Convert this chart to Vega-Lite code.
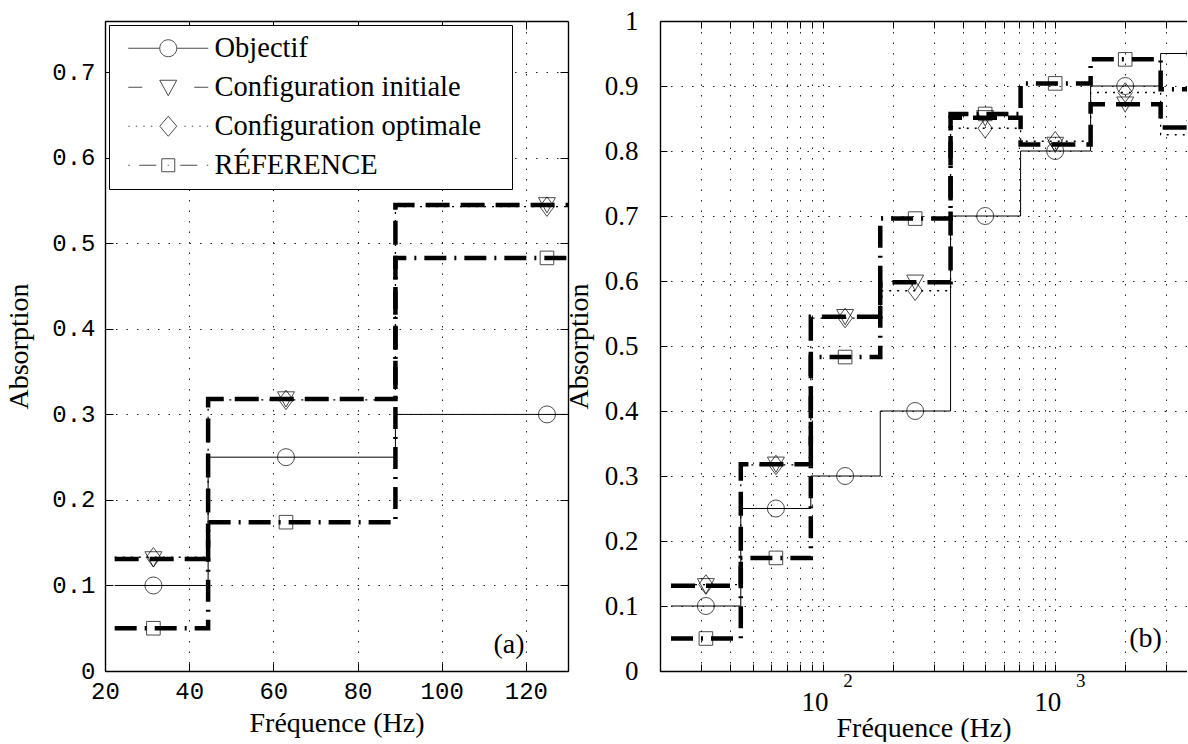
{
  "$schema": "https://vega.github.io/schema/vega-lite/v6.json",
  "background": "white",
  "padding": {"left": 5, "top": 7, "right": 0, "bottom": 0},
  "bounds": "flush",
  "spacing": 92,
  "config": {
    "view": {"stroke": null},
    "axis": {
      "domainColor": "black", "domainWidth": 1.4, "tickColor": "black", "tickWidth": 1,
      "gridColor": "#222", "gridDash": [1.5, 9], "gridOpacity": 1, "gridWidth": 1,
      "labelColor": "black", "titleColor": "black", "titleFont": "Liberation Serif",
      "titleFontSize": 28, "titleFontWeight": "normal", "labelFont": "Liberation Serif",
      "labelFontSize": 26, "labelFlush": false, "labelOverlap": false
    }
  },
  "datasets": {
    "bands": [
      {"s": "Objectif", "f": 31.5, "lo": 22.3, "hi": 44.5, "v": 0.1},
      {"s": "Objectif", "f": 63, "lo": 44.5, "hi": 89, "v": 0.25},
      {"s": "Objectif", "f": 125, "lo": 89, "hi": 177, "v": 0.3},
      {"s": "Objectif", "f": 250, "lo": 177, "hi": 355, "v": 0.4},
      {"s": "Objectif", "f": 500, "lo": 355, "hi": 710, "v": 0.7},
      {"s": "Objectif", "f": 1000, "lo": 710, "hi": 1420, "v": 0.8},
      {"s": "Objectif", "f": 2000, "lo": 1420, "hi": 2840, "v": 0.9},
      {"s": "Objectif", "f": 4000, "lo": 2840, "hi": 5680, "v": 0.95},
      {"s": "Configuration initiale", "f": 31.5, "lo": 22.3, "hi": 44.5, "v": 0.131},
      {"s": "Configuration initiale", "f": 63, "lo": 44.5, "hi": 89, "v": 0.318},
      {"s": "Configuration initiale", "f": 125, "lo": 89, "hi": 177, "v": 0.545},
      {"s": "Configuration initiale", "f": 250, "lo": 177, "hi": 355, "v": 0.598},
      {"s": "Configuration initiale", "f": 500, "lo": 355, "hi": 710, "v": 0.851},
      {"s": "Configuration initiale", "f": 1000, "lo": 710, "hi": 1420, "v": 0.81},
      {"s": "Configuration initiale", "f": 2000, "lo": 1420, "hi": 2840, "v": 0.872},
      {"s": "Configuration initiale", "f": 4000, "lo": 2840, "hi": 5680, "v": 0.836},
      {"s": "Configuration optimale", "f": 31.5, "lo": 22.3, "hi": 44.5, "v": 0.133},
      {"s": "Configuration optimale", "f": 63, "lo": 44.5, "hi": 89, "v": 0.317},
      {"s": "Configuration optimale", "f": 125, "lo": 89, "hi": 177, "v": 0.543},
      {"s": "Configuration optimale", "f": 250, "lo": 177, "hi": 355, "v": 0.585},
      {"s": "Configuration optimale", "f": 500, "lo": 355, "hi": 710, "v": 0.835},
      {"s": "Configuration optimale", "f": 1000, "lo": 710, "hi": 1420, "v": 0.815},
      {"s": "Configuration optimale", "f": 2000, "lo": 1420, "hi": 2840, "v": 0.89},
      {"s": "Configuration optimale", "f": 4000, "lo": 2840, "hi": 5680, "v": 0.825},
      {"s": "RÉFERENCE", "f": 31.5, "lo": 22.3, "hi": 44.5, "v": 0.05},
      {"s": "RÉFERENCE", "f": 63, "lo": 44.5, "hi": 89, "v": 0.174},
      {"s": "RÉFERENCE", "f": 125, "lo": 89, "hi": 177, "v": 0.483},
      {"s": "RÉFERENCE", "f": 250, "lo": 177, "hi": 355, "v": 0.696},
      {"s": "RÉFERENCE", "f": 500, "lo": 355, "hi": 710, "v": 0.857},
      {"s": "RÉFERENCE", "f": 1000, "lo": 710, "hi": 1420, "v": 0.904},
      {"s": "RÉFERENCE", "f": 2000, "lo": 1420, "hi": 2840, "v": 0.941},
      {"s": "RÉFERENCE", "f": 4000, "lo": 2840, "hi": 5680, "v": 0.895}
    ],
    "tags": [{"label": "(a)"}, {"label": "(b)"}]
  },
  "hconcat": [
    {
      "width": 463,
      "height": 650,
      "data": {"name": "bands"},
      "resolve": {"scale": {"shape": "independent"}, "axis": {"x": "independent", "y": "independent"}},
      "layer": [
        {
          "transform": [{"filter": "datum.s == 'Objectif'"}, {"fold": ["lo", "hi"], "as": ["edge", "fx"]}],
          "mark": {"type": "line", "clip": true, "color": "black", "strokeWidth": 1},
          "encoding": {
            "x": {"field": "fx", "type": "quantitative", "scale": {"domain": [20, 130], "nice": false, "zero": false},
              "axis": {"orient": "bottom", "values": [20, 40, 60, 80, 100, 120], "grid": true, "tickSize": -8,
                "labelFont": "Liberation Mono", "labelFontSize": 24, "labelPadding": 16, "title": "Fréquence (Hz)", "titlePadding": 6}},
            "y": {"field": "v", "type": "quantitative", "scale": {"domain": [0, 0.76], "nice": false, "zero": false},
              "axis": {"orient": "left", "values": [0, 0.1, 0.2, 0.3, 0.4, 0.5, 0.6, 0.7], "grid": true, "tickSize": -8,
                "labelFont": "Liberation Mono", "labelFontSize": 24, "labelPadding": 18, "format": "~g", "title": "Absorption", "titlePadding": 18}},
            "order": [{"field": "f", "type": "quantitative"}, {"field": "edge", "type": "ordinal", "sort": "descending"}]
          }
        },
        {
          "transform": [{"filter": "datum.s == 'Configuration initiale'"}, {"fold": ["lo", "hi"], "as": ["edge", "fx"]}],
          "mark": {"type": "line", "clip": true, "color": "black", "strokeWidth": 4.5, "strokeDash": [24, 11]},
          "encoding": {
            "x": {"field": "fx", "type": "quantitative", "scale": {"domain": [20, 130], "nice": false, "zero": false}, "axis": null},
            "y": {"field": "v", "type": "quantitative", "scale": {"domain": [0, 0.76], "nice": false, "zero": false}, "axis": null},
            "order": [{"field": "f", "type": "quantitative"}, {"field": "edge", "type": "ordinal", "sort": "descending"}]
          }
        },
        {
          "transform": [{"filter": "datum.s == 'Configuration optimale'"}, {"fold": ["lo", "hi"], "as": ["edge", "fx"]}],
          "mark": {"type": "line", "clip": true, "color": "black", "strokeWidth": 1.3, "strokeDash": [2, 6]},
          "encoding": {
            "x": {"field": "fx", "type": "quantitative", "scale": {"domain": [20, 130], "nice": false, "zero": false}, "axis": null},
            "y": {"field": "v", "type": "quantitative", "scale": {"domain": [0, 0.76], "nice": false, "zero": false}, "axis": null},
            "order": [{"field": "f", "type": "quantitative"}, {"field": "edge", "type": "ordinal", "sort": "descending"}]
          }
        },
        {
          "transform": [{"filter": "datum.s == 'RÉFERENCE'"}, {"fold": ["lo", "hi"], "as": ["edge", "fx"]}],
          "mark": {"type": "line", "clip": true, "color": "black", "strokeWidth": 4.5, "strokeDash": [22, 8, 2, 8]},
          "encoding": {
            "x": {"field": "fx", "type": "quantitative", "scale": {"domain": [20, 130], "nice": false, "zero": false}, "axis": null},
            "y": {"field": "v", "type": "quantitative", "scale": {"domain": [0, 0.76], "nice": false, "zero": false}, "axis": null},
            "order": [{"field": "f", "type": "quantitative"}, {"field": "edge", "type": "ordinal", "sort": "descending"}]
          }
        },
        {
          "mark": {"type": "point", "clip": true, "filled": false, "color": "black", "strokeWidth": 1, "size": 289},
          "encoding": {
            "x": {"field": "f", "type": "quantitative", "scale": {"domain": [20, 130], "nice": false, "zero": false},
              "axis": {"orient": "top", "values": [20, 40, 60, 80, 100, 120], "labels": false, "grid": false, "tickSize": -8, "title": null}},
            "y": {"field": "v", "type": "quantitative", "scale": {"domain": [0, 0.76], "nice": false, "zero": false},
              "axis": {"orient": "right", "values": [0, 0.1, 0.2, 0.3, 0.4, 0.5, 0.6, 0.7], "labels": false, "grid": false, "tickSize": -8, "title": null}},
            "shape": {"field": "s", "type": "nominal",
              "scale": {"domain": ["Objectif", "Configuration initiale", "Configuration optimale", "RÉFERENCE"],
                "range": ["circle", "M-1,-0.85L1,-0.85L0,0.95Z", "M0,-1.15L0.85,0L0,1.15L-0.85,0Z", "M-0.8,-0.8H0.8V0.8H-0.8Z"]},
              "legend": null}
          }
        },
        {
          "transform": [{"filter": "false"}],
          "mark": {"type": "point", "filled": false, "color": "black", "strokeWidth": 1, "size": 400},
          "encoding": {
            "x": {"field": "f", "type": "quantitative", "scale": {"domain": [20, 130], "nice": false, "zero": false}, "axis": null},
            "y": {"field": "v", "type": "quantitative", "scale": {"domain": [0, 0.76], "nice": false, "zero": false}, "axis": null},
            "shape": {"field": "s", "type": "nominal",
              "scale": {"domain": ["Objectif", "Configuration initiale", "Configuration optimale", "RÉFERENCE"],
                "range": [
                  "M-4,0H-0.85M0.85,0H4M0.85,0A0.85,0.85,0,1,1,-0.85,0A0.85,0.85,0,1,1,0.85,0",
                  "M-4,0H-2.6M2.6,0H4M-0.85,-0.7L0.85,-0.7L0,0.85Z",
                  "M-4,0H-3.85M-3.25,0H-3.1M-2.5,0H-2.35M-1.75,0H-1.6M1.6,0H1.75M2.35,0H2.5M3.1,0H3.25M3.85,0H4M0,-1L0.85,0L0,1L-0.85,0Z",
                  "M-4,0H-3.85M-2.9,0H-1.2M1.2,0H2.9M3.85,0H4M-0.65,-0.65H0.65V0.65H-0.65ZM-0.06,0H0.06"
                ]},
              "legend": {"title": null, "orient": "top-left", "offset": 4, "padding": 9, "strokeColor": "black",
                "fillColor": "white", "labelFont": "Liberation Serif", "labelFontSize": 28.5, "labelColor": "black",
                "labelExpr": "datum.label + '\u2800'",
                "symbolSize": 400, "symbolStrokeWidth": 1, "symbolStrokeColor": "black", "symbolFillColor": "transparent",
                "symbolOffset": 36, "labelOffset": 32, "rowPadding": 10, "labelLimit": 500, "cornerRadius": 0}}
          }
        },
        {
          "data": {"name": "tags"},
          "transform": [{"filter": "datum.label == '(a)'"}],
          "mark": {"type": "text", "font": "Liberation Serif", "fontSize": 28, "color": "black"},
          "encoding": {
            "x": {"datum": 116, "type": "quantitative", "scale": {"domain": [20, 130], "nice": false, "zero": false}, "axis": null},
            "y": {"datum": 0.03, "type": "quantitative", "scale": {"domain": [0, 0.76], "nice": false, "zero": false}, "axis": null},
            "text": {"field": "label"}
          }
        }
      ]
    },
    {
      "width": 527,
      "height": 650,
      "data": {"name": "bands"},
      "resolve": {"axis": {"x": "independent", "y": "independent"}},
      "layer": [
        {
          "transform": [{"filter": "datum.s == 'Objectif'"}, {"fold": ["lo", "hi"], "as": ["edge", "fx"]}],
          "mark": {"type": "line", "clip": true, "color": "black", "strokeWidth": 1},
          "encoding": {
            "x": {"field": "fx", "type": "quantitative", "scale": {"type": "log", "domain": [20, 3687], "nice": false},
              "axis": {"orient": "bottom", "values": [20, 30, 40, 50, 60, 70, 80, 90, 100, 200, 300, 400, 500, 600, 700, 800, 900, 1000, 2000, 3000],
                "grid": true, "tickSize": -7, "labelExpr": "datum.value == 100 || datum.value == 1000 ? '10' : ''",
                "labelFontSize": 27, "labelPadding": 25, "labelOffset": -8, "title": "Fréquence (Hz)", "titlePadding": -1}},
            "y": {"field": "v", "type": "quantitative", "scale": {"domain": [0, 1], "nice": false, "zero": false},
              "axis": {"orient": "left", "values": [0, 0.1, 0.2, 0.3, 0.4, 0.5, 0.6, 0.7, 0.8, 0.9, 1], "grid": true, "tickSize": -7,
                "labelFontSize": 27, "labelPadding": 29, "format": "~g", "title": "Absorption", "titlePadding": 11}},
            "order": [{"field": "f", "type": "quantitative"}, {"field": "edge", "type": "ordinal", "sort": "descending"}]
          }
        },
        {
          "transform": [{"filter": "datum.s == 'Configuration initiale'"}, {"fold": ["lo", "hi"], "as": ["edge", "fx"]}],
          "mark": {"type": "line", "clip": true, "color": "black", "strokeWidth": 4.5, "strokeDash": [24, 11]},
          "encoding": {
            "x": {"field": "fx", "type": "quantitative", "scale": {"type": "log", "domain": [20, 3687], "nice": false}, "axis": null},
            "y": {"field": "v", "type": "quantitative", "scale": {"domain": [0, 1], "nice": false, "zero": false}, "axis": null},
            "order": [{"field": "f", "type": "quantitative"}, {"field": "edge", "type": "ordinal", "sort": "descending"}]
          }
        },
        {
          "transform": [{"filter": "datum.s == 'Configuration optimale'"}, {"fold": ["lo", "hi"], "as": ["edge", "fx"]}],
          "mark": {"type": "line", "clip": true, "color": "black", "strokeWidth": 1.3, "strokeDash": [2, 6]},
          "encoding": {
            "x": {"field": "fx", "type": "quantitative", "scale": {"type": "log", "domain": [20, 3687], "nice": false}, "axis": null},
            "y": {"field": "v", "type": "quantitative", "scale": {"domain": [0, 1], "nice": false, "zero": false}, "axis": null},
            "order": [{"field": "f", "type": "quantitative"}, {"field": "edge", "type": "ordinal", "sort": "descending"}]
          }
        },
        {
          "transform": [{"filter": "datum.s == 'RÉFERENCE'"}, {"fold": ["lo", "hi"], "as": ["edge", "fx"]}],
          "mark": {"type": "line", "clip": true, "color": "black", "strokeWidth": 4.5, "strokeDash": [22, 8, 2, 8]},
          "encoding": {
            "x": {"field": "fx", "type": "quantitative", "scale": {"type": "log", "domain": [20, 3687], "nice": false}, "axis": null},
            "y": {"field": "v", "type": "quantitative", "scale": {"domain": [0, 1], "nice": false, "zero": false}, "axis": null},
            "order": [{"field": "f", "type": "quantitative"}, {"field": "edge", "type": "ordinal", "sort": "descending"}]
          }
        },
        {
          "mark": {"type": "point", "clip": true, "filled": false, "color": "black", "strokeWidth": 1, "size": 289},
          "encoding": {
            "x": {"field": "f", "type": "quantitative", "scale": {"type": "log", "domain": [20, 3687], "nice": false},
              "axis": {"orient": "top", "values": [20, 30, 40, 50, 60, 70, 80, 90, 100, 200, 300, 400, 500, 600, 700, 800, 900, 1000, 2000, 3000],
                "labels": false, "grid": false, "tickSize": -7, "title": null}},
            "y": {"field": "v", "type": "quantitative", "scale": {"domain": [0, 1], "nice": false, "zero": false}, "axis": null},
            "shape": {"field": "s", "type": "nominal",
              "scale": {"domain": ["Objectif", "Configuration initiale", "Configuration optimale", "RÉFERENCE"],
                "range": ["circle", "M-1,-0.85L1,-0.85L0,0.95Z", "M0,-1.15L0.85,0L0,1.15L-0.85,0Z", "M-0.8,-0.8H0.8V0.8H-0.8Z"]},
              "legend": null}
          }
        },
        {
          "data": {"name": "tags"},
          "transform": [{"filter": "datum.label == '(b)'"}],
          "mark": {"type": "text", "font": "Liberation Serif", "fontSize": 28, "color": "black"},
          "encoding": {
            "x": {"datum": 2448, "type": "quantitative", "scale": {"type": "log", "domain": [20, 3687], "nice": false},
              "axis": {"orient": "bottom", "values": [100, 1000], "labelExpr": "datum.value == 100 ? '2' : '3'", "ticks": false,
                "grid": false, "domain": false, "labelFontSize": 19, "labelOffset": 25, "labelPadding": 0, "title": null}},
            "y": {"datum": 0.049, "type": "quantitative", "scale": {"domain": [0, 1], "nice": false, "zero": false}, "axis": null},
            "text": {"field": "label"}
          }
        }
      ]
    }
  ]
}
